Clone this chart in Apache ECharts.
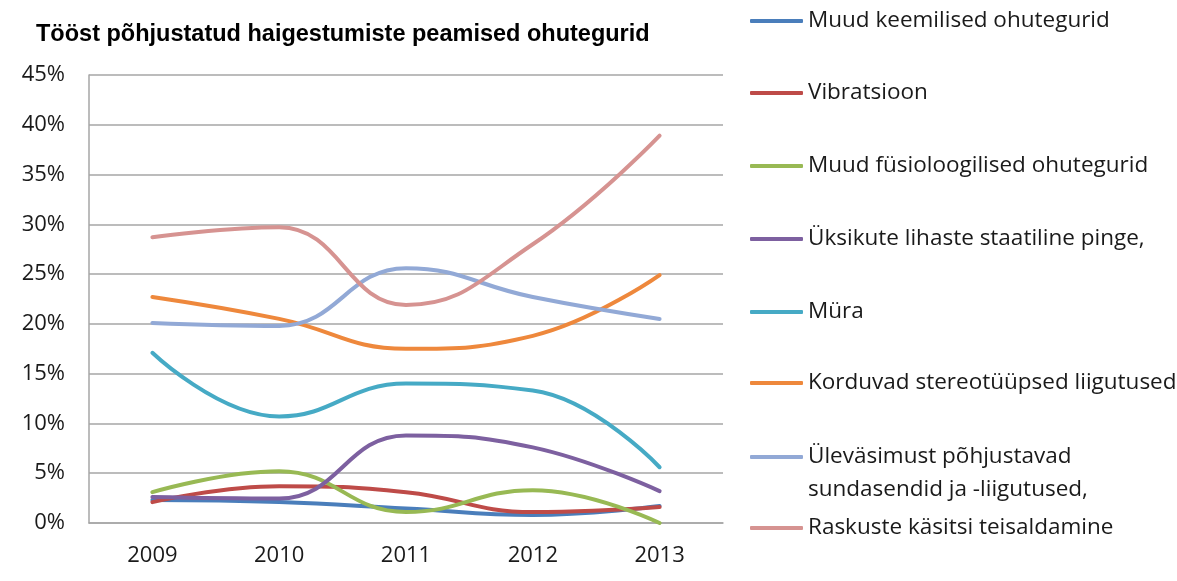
<!DOCTYPE html>
<html><head><meta charset="utf-8">
<script src="https://cdn.jsdelivr.net/npm/echarts@6/dist/echarts.min.js"></script>
<style>html,body{margin:0;padding:0;background:#fff}#c{width:1177px;height:581px}</style>
</head><body><div id="c"></div>
<script>
const title = 'Tööst põhjustatud haigestumiste peamised ohutegurid';
const years = ['2009', '2010', '2011', '2012', '2013'];
const names = [
  'Muud keemilised ohutegurid',
  'Vibratsioon',
  'Muud füsioloogilised ohutegurid',
  'Üksikute lihaste staatiline pinge,',
  'Müra',
  'Korduvad stereotüüpsed liigutused',
  'Üleväsimust põhjustavad sundasendid ja -liigutused,',
  'Raskuste käsitsi teisaldamine'
];
const legendLine1 = 'Üleväsimust põhjustavad';
const legendLine2 = 'sundasendid ja -liigutused,';
const muudKeemilised = [2.3, 2.1, 1.45, 0.8, 1.7];
const vibratsioon = [2.1, 3.7, 3.1, 1.1, 1.6];
const muudFusio = [3.1, 5.2, 1.1, 3.3, 0.0];
const uksikute = [2.6, 2.45, 8.8, 7.6, 3.2];
const mura = [17.1, 10.7, 14.0, 13.3, 5.6];
const korduvad = [22.7, 20.5, 17.5, 18.8, 24.9];
const ulevasimust = [20.1, 19.8, 25.6, 22.7, 20.5];
const raskuste = [28.7, 29.7, 21.9, 28.0, 38.9];
const values = [muudKeemilised, vibratsioon, muudFusio, uksikute, mura, korduvad, ulevasimust, raskuste];
const yTicks = { min: 0, max: 45, interval: 5 };

const colors = ['#4a7ebb', '#be4b48', '#98b954', '#7d60a0', '#46aac5', '#ee883c', '#92a9d6', '#d69391'];
const legendCenters = [21, 93, 166, 239, 312, 383, 457, 528];
const FONT = 'Open Sans';
const LFS = 22.5;

const chart = echarts.init(document.getElementById('c'), null, { renderer: 'canvas' });
const legends = names.map((n, i) => {
  const lh = 30;
  return {
    data: [n],
    orient: 'vertical',
    left: 750,
    top: legendCenters[i] - lh / 2,
    padding: 0,
    icon: 'roundRect',
    itemWidth: 53,
    itemHeight: 4,
    selectedMode: false,
    formatter: (name) => name === names[6] ? legendLine1 : name,
    textStyle: { fontFamily: FONT, fontSize: LFS, color: '#1a1a1a', lineHeight: lh }
  };
});

chart.setOption({
  animation: false,
  color: colors,
  title: {
    text: title, left: 31, top: 18,
    textStyle: { fontFamily: 'Liberation Sans', fontWeight: 'bold', fontSize: 23.5, color: '#000' }
  },
  legend: legends,
  graphic: [{
    type: 'text', left: 808, top: 490 - 15,
    style: { text: legendLine2, fontFamily: FONT, fontSize: LFS, fill: '#1a1a1a', lineHeight: 30 }
  }],
  grid: { left: 89, right: 454, top: 75, bottom: 58, containLabel: false },
  xAxis: {
    type: 'category', data: years, boundaryGap: true,
    axisLine: { lineStyle: { color: '#a6a6a6', width: 1.5 } },
    axisTick: { show: false },
    axisLabel: { fontFamily: FONT, fontSize: 22, color: '#1a1a1a', margin: 22 }
  },
  yAxis: {
    type: 'value', min: yTicks.min, max: yTicks.max, interval: yTicks.interval,
    axisLine: { show: true, lineStyle: { color: '#a6a6a6', width: 1.5 } },
    axisTick: { show: false },
    splitLine: { lineStyle: { color: '#a6a6a6', width: 1.5 } },
    axisLabel: { fontFamily: FONT, fontSize: 22, color: '#1a1a1a', margin: 24, formatter: '{value}%' }
  },
  series: names.map((n, i) => ({
    name: n, type: 'line', data: values[i], smooth: 0.45,
    showSymbol: false, symbol: 'none',
    lineStyle: { width: 4, color: colors[i], cap: 'round' },
    itemStyle: { color: colors[i] }
  }))
});
</script>
</body></html>
